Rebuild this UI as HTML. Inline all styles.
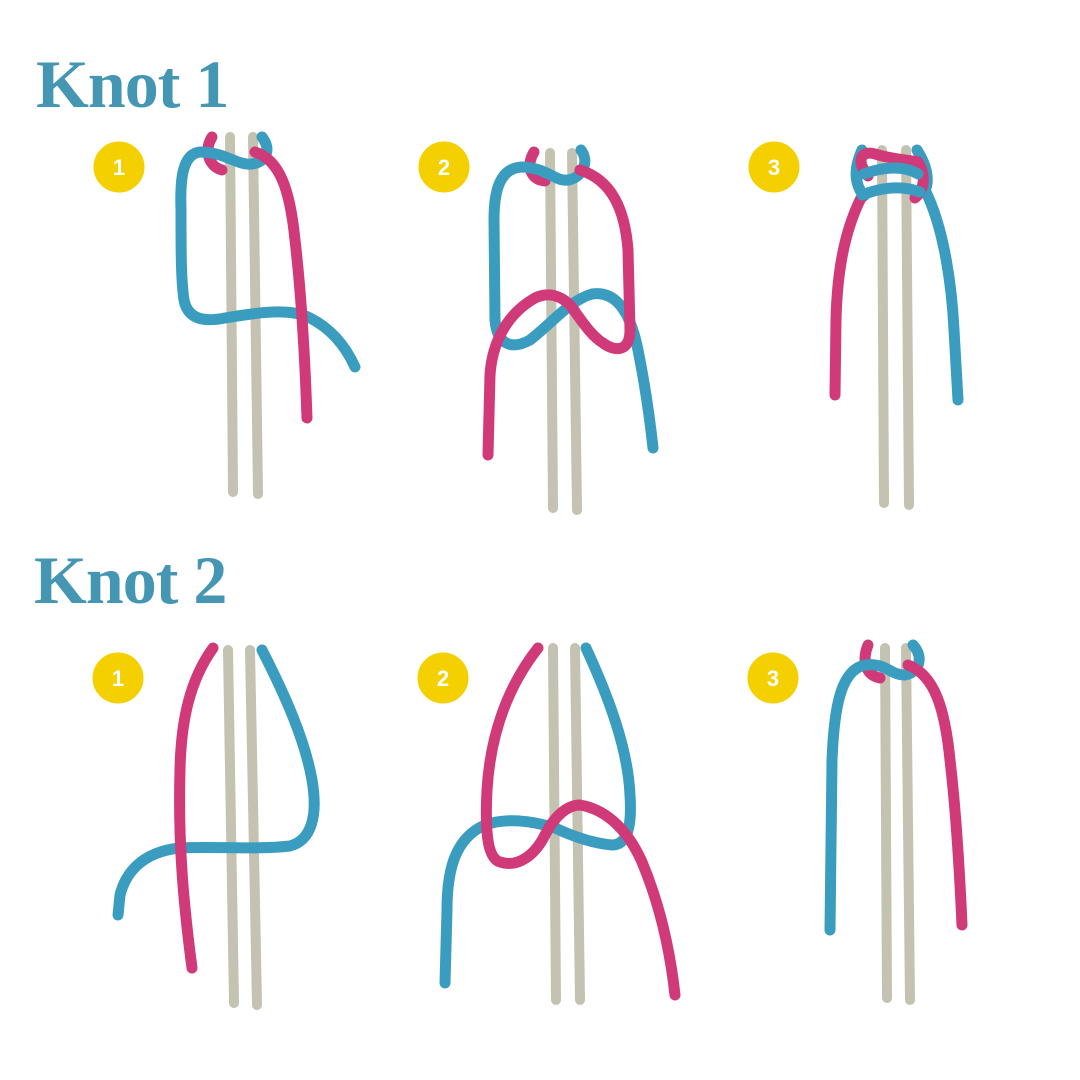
<!DOCTYPE html>
<html><head><meta charset="utf-8"><style>
html,body{margin:0;padding:0;background:#fff;}
svg{display:block}
text.t{font-family:"Liberation Serif",serif;font-weight:bold;fill:#4596b3;}
text.n{font-family:"Liberation Sans",sans-serif;font-weight:bold;fill:#fff;font-size:22px;text-anchor:middle;}
</style></head><body>
<svg width="1080" height="1080" viewBox="0 0 1080 1080" xmlns="http://www.w3.org/2000/svg">
<g fill="none" stroke-linecap="round" stroke-linejoin="round">
<text class="t" x="36" y="107" font-size="68" letter-spacing="-1">Knot 1</text>
<text class="t" x="34" y="603" font-size="68" letter-spacing="-1">Knot 2</text>

<g stroke="#f5d000" fill="#f5d000" stroke-width="1">
<circle cx="119" cy="167" r="25"/><circle cx="444" cy="167" r="25"/><circle cx="774" cy="167" r="25"/>
<circle cx="118" cy="678" r="25"/><circle cx="443" cy="678" r="25"/><circle cx="773" cy="678" r="25"/>
</g>
<g stroke="none">
<text class="n" x="119" y="175">1</text><text class="n" x="444" y="175">2</text><text class="n" x="774" y="175">3</text>
<text class="n" x="118" y="686">1</text><text class="n" x="443" y="686">2</text><text class="n" x="773" y="686">3</text>
</g>

<!-- cores -->
<g stroke="#c4c2b0" stroke-width="10">
<path d="M230 137 L233 492"/><path d="M253 137 L258 494"/>
<path d="M550 153 L553 508"/><path d="M572 153 L577 510"/>
<path d="M882 150 L884 503"/><path d="M906 150 L909 505"/>
<path d="M228 650 L234 1003"/><path d="M250 650 L257 1005"/>
<path d="M553 648 L556 1000"/><path d="M575 648 L580 1000"/>
<path d="M885 648 L887 998"/><path d="M906 648 L910 1000"/>
</g>

<g stroke-width="11">
<!-- K1 P1 -->
<path stroke="#d03a78" d="M212 137 C204 150 208 166 222 170"/>
<path stroke="#3a9dbf" d="M262 137 C272 150 266 162 252 164 C238 166 225 152 200 152 C182 154 180 180 181 210 C181 250 181 280 184 300 C188 320 205 322 225 318 C260 312 290 308 310 318 C330 328 345 345 355 367"/>
<path stroke="#d03a78" d="M255 152 C280 160 290 190 295 240 C302 300 305 360 307 418"/>

<!-- K1 P2 -->
<path stroke="#d03a78" d="M534 152 C526 165 530 180 545 181"/>
<path stroke="#3a9dbf" d="M581 150 C590 162 582 178 568 180 C555 182 548 168 522 167 C500 168 494 190 494 220 L495 320 C497 345 512 350 530 340 C550 325 570 300 592 294 C620 290 632 320 638 350 C646 390 650 420 653 448"/>
<path stroke="#d03a78" d="M580 170 C612 180 625 210 628 250 L630 330 C630 352 615 352 603 343 C590 335 580 318 570 305 C560 295 548 292 535 298 C505 315 492 345 490 375 L488 455"/>

<!-- K1 P3 -->
<path stroke="#3a9dbf" d="M917 150 C930 170 928 185 925 190 C945 230 952 290 954 330 L958 400"/>
<path stroke="#3a9dbf" d="M862 150 C853 170 855 185 864 196"/>
<path stroke="#d03a78" d="M868 176 C855 160 862 150 875 154 C895 160 910 160 918 162 C928 178 922 192 915 198 M862 196 C842 235 837 280 836 320 L835 395"/>
<path stroke="#3a9dbf" d="M864 174 C885 166 905 166 918 174 M862 195 C885 186 905 186 920 192"/>

<!-- K2 P1 -->
<path stroke="#3a9dbf" d="M262 650 C285 695 305 740 312 780 C318 815 312 840 290 846 C255 850 215 846 180 848 C140 852 125 875 120 895 L118 915"/>
<path stroke="#d03a78" d="M213 648 C190 680 181 720 180 770 C178 840 183 900 192 968"/>

<!-- K2 P2 -->
<path stroke="#3a9dbf" d="M586 648 C610 700 628 750 630 795 C632 825 628 845 612 845 C590 843 570 835 555 828 C530 820 505 818 485 825 C455 838 447 870 447 910 L445 983"/>
<path stroke="#d03a78" d="M538 648 C505 690 490 740 487 790 C485 830 487 858 500 862 C518 868 535 855 545 835 C555 815 568 805 580 805 C610 810 630 835 642 862 C660 905 670 950 675 995"/>

<!-- K2 P3 -->
<path stroke="#d03a78" d="M868 645 C862 660 865 675 880 678"/>
<path stroke="#3a9dbf" d="M913 645 C925 658 918 673 905 675 C892 676 885 662 865 665 C840 670 834 710 832 760 L830 930"/>
<path stroke="#d03a78" d="M908 665 C935 675 945 710 950 760 C957 820 960 880 962 925"/>
</g>
</g>
</svg>
</body></html>
